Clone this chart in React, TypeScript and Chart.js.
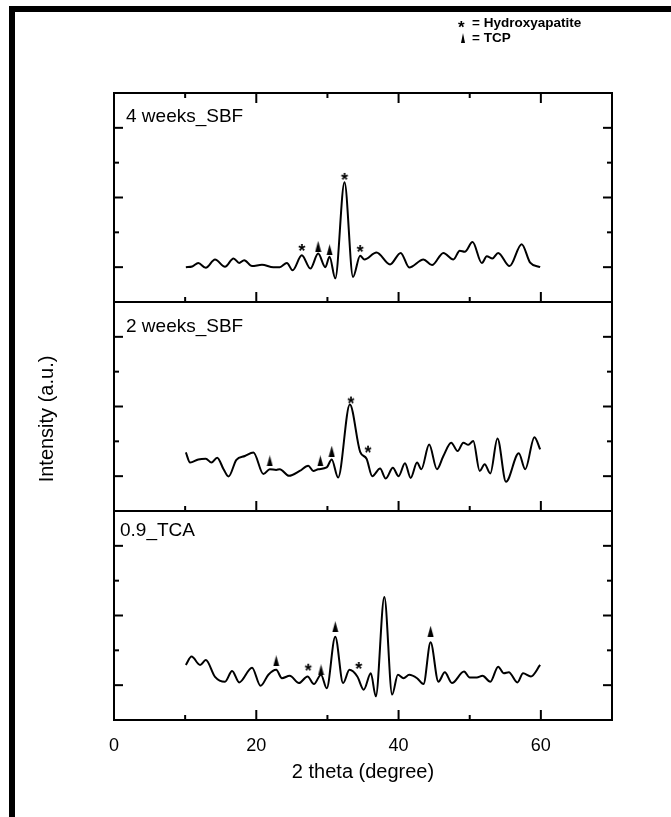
import React, { useEffect, useRef } from 'react';
import { Chart, registerables } from 'chart.js';

Chart.register(...registerables);

// ---------- data ----------
const panelLabels = ['4 weeks_SBF', '2 weeks_SBF', '0.9_TCA'];

const xTickValues = [0, 10, 20, 30, 40, 50, 60, 70];
const xLabelValues = [0, 20, 40, 60];
const yTickValues = [0, 1, 2, 3, 4];

const sbf4Theta = [10.1, 11.0, 11.85, 12.9, 14.2, 15.6, 16.8, 17.6, 18.3, 19.4, 20.8, 22.4, 23.3, 24.3, 25.1, 26.4, 27.6, 28.7, 29.7, 30.3, 31.1, 32.4, 33.6, 34.6, 35.2, 36.9, 38.8, 40.3, 41.5, 43.5, 44.7, 46.3, 47.7, 48.6, 49.3, 50.4, 51.7, 52.4, 53.2, 54.0, 55.6, 57.3, 58.5, 59.9];
const sbf4Intensity = [0.0, 0.02, 0.12, -0.02, 0.22, 0.01, 0.25, 0.12, 0.2, 0.03, 0.07, 0.0, 0.0, 0.12, -0.09, 0.34, -0.04, 0.39, 0.0, 0.3, -0.32, 2.44, -0.28, 0.33, 0.22, 0.42, 0.08, 0.41, -0.01, 0.22, 0.06, 0.41, 0.22, 0.47, 0.44, 0.72, 0.12, 0.31, 0.25, 0.41, 0.03, 0.66, 0.13, 0.0];

const sbf2Theta = [10.1, 10.7, 11.85, 12.9, 13.7, 14.5, 15.4, 16.1, 17.2, 18.4, 19.6, 21.0, 21.9, 22.8, 23.3, 24.6, 26.1, 27.3, 28.0, 28.7, 29.9, 30.6, 31.5, 33.15, 34.6, 35.5, 36.3, 37.4, 38.2, 39.2, 40.0, 40.9, 41.7, 42.6, 43.2, 44.3, 45.4, 46.3, 47.4, 48.3, 49.1, 49.8, 50.5, 51.4, 52.1, 52.9, 53.9, 55.1, 56.9, 57.8, 59.1, 59.9];
const sbf2Intensity = [0.68, 0.39, 0.48, 0.5, 0.39, 0.53, 0.2, -0.01, 0.47, 0.58, 0.68, 0.06, 0.2, 0.18, 0.2, 0.01, 0.15, 0.3, 0.15, 0.2, 0.25, 0.48, -0.04, 2.06, 0.7, 0.5, 0.0, 0.22, -0.07, 0.24, 0.0, 0.37, -0.05, 0.39, 0.2, 0.91, 0.2, 0.58, 0.96, 0.72, 0.96, 0.9, 1.01, 0.15, 0.34, 0.08, 1.08, -0.16, 0.66, 0.2, 1.12, 0.77];

const tcaTheta = [10.1, 10.9, 12.1, 12.9, 14.2, 15.6, 16.6, 17.6, 19.4, 20.6, 21.7, 22.8, 23.6, 24.7, 26.0, 27.2, 28.1, 29.1, 29.9, 31.1, 32.2, 33.1, 34.2, 35.1, 36.1, 36.8, 38.0, 39.1, 39.9, 40.7, 41.5, 42.6, 43.5, 44.5, 45.6, 46.5, 47.5, 49.2, 50.0, 51.0, 51.8, 52.9, 54.0, 54.8, 55.5, 56.7, 57.5, 58.6, 59.9];
const tcaIntensity = [0.58, 0.82, 0.58, 0.72, 0.24, 0.1, 0.41, 0.08, 0.5, -0.02, 0.3, 0.44, 0.2, 0.27, 0.06, 0.25, 0.03, 0.3, -0.09, 1.39, 0.06, 0.44, 0.25, -0.13, 0.34, -0.32, 2.53, -0.27, 0.3, 0.2, 0.3, 0.2, 0.03, 1.23, 0.1, 0.37, 0.06, 0.39, 0.22, 0.22, 0.27, 0.1, 0.53, 0.34, 0.37, 0.08, 0.34, 0.25, 0.58];

// marker positions (2theta, height)
const sbf4HaTheta = [26.4, 32.4, 34.6];
const sbf4HaY = [0.58, 2.62, 0.55];
const sbf4TcpTheta = [28.7, 30.3];
const sbf4TcpY = [0.6, 0.5];

const sbf2HaTheta = [33.3, 35.7];
const sbf2HaY = [2.2, 0.79];
const sbf2TcpTheta = [21.9, 29.0, 30.6];
const sbf2TcpY = [0.44, 0.44, 0.72];

const tcaHaTheta = [27.3, 34.4];
const tcaHaY = [0.53, 0.58];
const tcaTcpTheta = [22.8, 29.1, 31.1, 44.5];
const tcaTcpY = [0.7, 0.44, 1.68, 1.55];

// ---------- helpers ----------
const FONT = "'Liberation Sans', Arial, Helvetica, sans-serif";

const zip = (xs: number[], ys: number[]) => xs.map((x, i) => ({ x, y: ys[i] }));

function makeTriangle(): HTMLCanvasElement {
  const c = document.createElement('canvas');
  c.width = 7;
  c.height = 11;
  const g = c.getContext('2d')!;
  g.fillStyle = '#000';
  g.beginPath();
  g.moveTo(3.5, 0);
  g.lineTo(6.5, 11);
  g.lineTo(0.5, 11);
  g.closePath();
  g.fill();
  return c;
}

function makeStar(): HTMLCanvasElement {
  const c = document.createElement('canvas');
  c.width = 14;
  c.height = 14;
  const g = c.getContext('2d')!;
  g.fillStyle = '#000';
  g.font = `bold 18px ${FONT}`;
  g.textAlign = 'center';
  g.textBaseline = 'alphabetic';
  g.fillText('*', 7, 17.3);
  return c;
}

const panelIds = ['y1', 'y2', 'y3'];
const labelOffsets = [
  { dx: 12, dy: 29 },
  { dx: 12, dy: 30 },
  { dx: 6, dy: 25 },
];

const framePlugin = {
  id: 'xrdFrame',
  afterDraw(chart: any) {
    const ctx = chart.ctx as CanvasRenderingContext2D;
    const ca = chart.chartArea;
    const xs = chart.scales.x;
    ctx.save();
    ctx.strokeStyle = '#000';
    ctx.fillStyle = '#000';
    ctx.lineWidth = 2;
    const line = (x1: number, y1: number, x2: number, y2: number) => {
      ctx.beginPath();
      ctx.moveTo(x1, y1);
      ctx.lineTo(x2, y2);
      ctx.stroke();
    };
    ctx.strokeRect(ca.left, ca.top, ca.right - ca.left, ca.bottom - ca.top);
    panelIds.forEach((id, i) => {
      const s = chart.scales[id];
      line(ca.left, s.bottom, ca.right, s.bottom);
      for (const v of xTickValues) {
        const px = xs.getPixelForValue(v);
        const len = v % 20 === 0 ? 10 : 5;
        line(px, s.bottom, px, s.bottom - len);
        if (i === 0) line(px, s.top, px, s.top + len);
      }
      for (const v of yTickValues) {
        const py = s.getPixelForValue(v);
        const len = v % 2 === 0 ? 9 : 5;
        line(ca.left, py, ca.left + len, py);
        line(ca.right, py, ca.right - len, py);
      }
      ctx.font = `19px ${FONT}`;
      ctx.textAlign = 'left';
      ctx.textBaseline = 'alphabetic';
      ctx.fillText(panelLabels[i], ca.left + labelOffsets[i].dx, s.top + labelOffsets[i].dy);
    });
    ctx.translate(47, 419);
    ctx.rotate(-Math.PI / 2);
    ctx.font = `20px ${FONT}`;
    ctx.textAlign = 'center';
    ctx.textBaseline = 'middle';
    ctx.fillText('Intensity (a.u.)', 0, 0);
    ctx.restore();
  },
};

const hiddenY = (stackWeight: number) => ({
  type: 'linear' as const,
  min: -1,
  max: 5,
  position: 'left' as const,
  stack: 'panels',
  stackWeight,
  display: true,
  ticks: { display: false },
  grid: { display: false, drawTicks: false },
  border: { display: false },
  afterFit: (s: any) => {
    s.width = 0;
  },
});

export default function App() {
  const canvasRef = useRef<HTMLCanvasElement | null>(null);

  useEffect(() => {
    if (!canvasRef.current) return;
    const tri = makeTriangle();
    const star = makeStar();
    const curve = (xs: number[], ys: number[], axis: string) => ({
      type: 'line' as const,
      data: zip(xs, ys),
      yAxisID: axis,
      borderColor: '#000',
      borderWidth: 2,
      pointRadius: 0,
      fill: false,
      cubicInterpolationMode: 'monotone' as const,
    });
    const marks = (xs: number[], ys: number[], axis: string, style: HTMLCanvasElement) => ({
      type: 'line' as const,
      data: zip(xs, ys),
      yAxisID: axis,
      showLine: false,
      pointStyle: style,
      pointRadius: 4,
      borderColor: '#000',
      backgroundColor: '#000',
    });

    const chart = new Chart(canvasRef.current, {
      type: 'line',
      data: {
        datasets: [
          curve(sbf4Theta, sbf4Intensity, 'y1'),
          curve(sbf2Theta, sbf2Intensity, 'y2'),
          curve(tcaTheta, tcaIntensity, 'y3'),
          marks(sbf4HaTheta, sbf4HaY, 'y1', star),
          marks(sbf4TcpTheta, sbf4TcpY, 'y1', tri),
          marks(sbf2HaTheta, sbf2HaY, 'y2', star),
          marks(sbf2TcpTheta, sbf2TcpY, 'y2', tri),
          marks(tcaHaTheta, tcaHaY, 'y3', star),
          marks(tcaTcpTheta, tcaTcpY, 'y3', tri),
        ] as any,
      },
      options: {
        animation: false,
        responsive: false,
        maintainAspectRatio: false,
        layout: { padding: { left: 114, right: 59, top: 93, bottom: 0 } },
        plugins: { legend: { display: false }, tooltip: { enabled: false } },
        scales: {
          x: {
            type: 'linear',
            min: 0,
            max: 70,
            position: 'bottom',
            ticks: {
              stepSize: 10,
              autoSkip: false,
              maxRotation: 0,
              color: '#000',
              padding: 15,
              font: { family: FONT, size: 18 },
              callback: (v: any) => (xLabelValues.includes(Number(v)) ? String(v) : ''),
            },
            grid: { display: false, drawTicks: false },
            border: { display: false },
            title: {
              display: true,
              text: '2 theta (degree)',
              color: '#000',
              font: { family: FONT, size: 20 },
              padding: { top: 0, bottom: 33 },
            },
            afterFit: (s: any) => {
              s.height = 97;
            },
          },
          y3: hiddenY(1),
          y2: hiddenY(1),
          y1: hiddenY(1),
        } as any,
      },
      plugins: [framePlugin],
    });
    return () => chart.destroy();
  }, []);

  const legendText: React.CSSProperties = {
    position: 'absolute',
    fontFamily: FONT,
    fontWeight: 'bold',
    fontSize: '13.5px',
    lineHeight: '14px',
    color: '#000',
    whiteSpace: 'nowrap',
  };

  return (
    <div style={{ position: 'absolute', left: 0, top: 0, width: 671, height: 817, background: '#fff', overflow: 'hidden' }}>
      <canvas ref={canvasRef} width={671} height={817} style={{ position: 'absolute', left: 0, top: 0, width: 671, height: 817 }} />
      <div style={{ position: 'absolute', left: 9, top: 6, width: 662, height: 6, background: '#000' }} />
      <div style={{ position: 'absolute', left: 9, top: 6, width: 6, height: 811, background: '#000' }} />
      <div style={{ ...legendText, left: 458, top: 19, fontSize: '17px', lineHeight: '17px' }}>*</div>
      <div style={{ ...legendText, left: 472, top: 16 }}>= Hydroxyapatite</div>
      <div
        style={{
          position: 'absolute',
          left: 461,
          top: 33,
          width: 0,
          height: 0,
          borderLeft: '2.5px solid transparent',
          borderRight: '2.5px solid transparent',
          borderBottom: '10px solid #000',
        }}
      />
      <div style={{ ...legendText, left: 472, top: 31 }}>= TCP</div>
    </div>
  );
}
